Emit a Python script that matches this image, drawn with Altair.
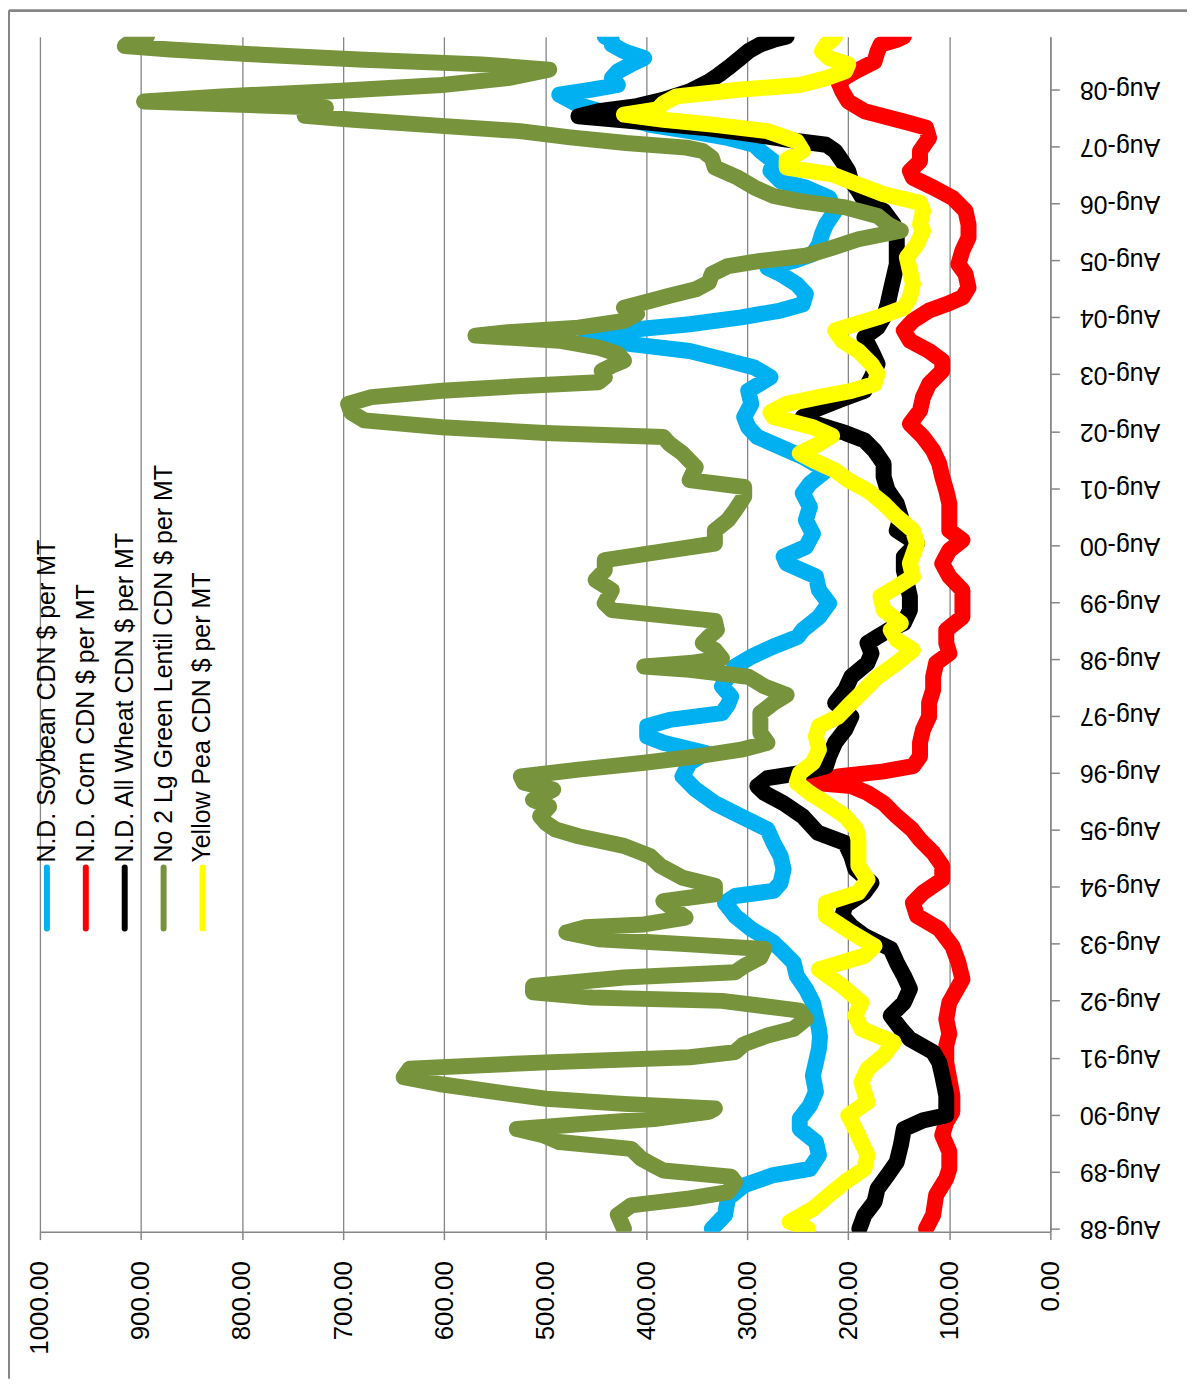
import altair as alt
import pandas as pd

series_names = [
    "N.D. Soybean CDN $ per MT",
    "N.D. Corn CDN $ per MT",
    "N.D. All Wheat CDN $ per MT",
    "No 2 Lg Green Lentil CDN $ per MT",
    "Yellow Pea CDN $ per MT",
]
series_colors = ["#00B0F0", "#FF0000", "#000000", "#77933C", "#FFFF00"]

value_ticks = [0, 100, 200, 300, 400, 500, 600, 700, 800, 900, 1000]
tick_years = list(range(1988, 2009))

soy_t = [
    1988.58, 1988.82, 1989.11, 1989.34, 1989.52, 1989.63, 1989.87, 1990.10, 1990.33, 1990.51,
    1990.74, 1990.98, 1991.27, 1991.50, 1991.74, 1991.95, 1992.09, 1992.32, 1992.55, 1992.79,
    1993.02, 1993.25, 1993.43, 1993.60, 1993.84, 1994.07, 1994.30, 1994.42, 1994.51, 1994.65,
    1994.89, 1995.12, 1995.35, 1995.59, 1995.82, 1996.05, 1996.29, 1996.52, 1996.76, 1996.93,
    1997.11, 1997.22, 1997.40, 1997.51, 1997.63, 1997.78, 1997.92, 1998.10, 1998.27, 1998.45,
    1998.62, 1998.80, 1998.97, 1999.09, 1999.32, 1999.56, 1999.79, 2000.03, 2000.26, 2000.38,
    2000.55, 2000.78, 2001.02, 2001.25, 2001.49, 2001.66, 2001.89, 2002.13, 2002.30, 2002.48,
    2002.65, 2002.83, 2003.06, 2003.29, 2003.53, 2003.70, 2003.82, 2003.99, 2004.11, 2004.23,
    2004.35, 2004.46, 2004.58, 2004.70, 2004.81, 2004.99, 2005.16, 2005.34, 2005.45, 2005.57,
    2005.69, 2005.86, 2006.04, 2006.21, 2006.45, 2006.68, 2006.86, 2006.97, 2007.15, 2007.32,
    2007.50, 2007.61, 2007.73, 2007.85, 2007.96, 2008.14, 2008.31, 2008.49, 2008.58, 2008.66,
    2008.78, 2008.90, 2009.02, 2009.13, 2009.25, 2009.37, 2009.45, 2009.51,
]
soy_v = [
    335, 322, 319, 303, 274, 238, 229, 232, 248, 248,
    238, 232, 235, 232, 229, 228, 229, 232, 235, 242,
    251, 254, 264, 274, 296, 312, 322, 312, 274, 267,
    264, 267, 274, 280, 306, 332, 351, 364, 357, 341,
    383, 399, 399, 377, 325, 319, 316, 325, 319, 312,
    296, 274, 250, 245, 229, 219, 229, 232, 261, 264,
    242, 235, 242, 238, 245, 238, 222, 245, 267, 290,
    299, 303, 296, 299, 277, 293, 319, 357, 415, 460,
    422, 357, 306, 267, 245, 242, 251, 267, 280, 254,
    235, 229, 226, 222, 213, 219, 242, 267, 277, 274,
    287, 293, 319, 357, 396, 434, 467, 486, 454, 428,
    434, 428, 415, 402, 422, 434, 434, 441,
]

corn_t = [
    1988.58, 1988.82, 1989.17, 1989.46, 1989.63, 1989.93, 1990.22, 1990.45, 1990.63, 1990.92,
    1991.21, 1991.50, 1991.79, 1992.00, 1992.26, 1992.55, 1992.96, 1993.25, 1993.54, 1993.84,
    1994.07, 1994.30, 1994.48, 1994.71, 1994.95, 1995.18, 1995.41, 1995.59, 1995.82, 1996.05,
    1996.23, 1996.35, 1996.41, 1996.52, 1996.61, 1996.70, 1996.87, 1997.11, 1997.34, 1997.57,
    1997.81, 1998.04, 1998.27, 1998.51, 1998.68, 1998.86, 1999.09, 1999.32, 1999.56, 1999.79,
    2000.03, 2000.26, 2000.49, 2000.67, 2000.84, 2001.08, 2001.31, 2001.54, 2001.78, 2002.01,
    2002.24, 2002.48, 2002.71, 2002.94, 2003.18, 2003.41, 2003.64, 2003.82, 2003.99, 2004.17,
    2004.35, 2004.52, 2004.70, 2004.81, 2004.93, 2005.10, 2005.34, 2005.51, 2005.75, 2005.98,
    2006.21, 2006.45, 2006.68, 2006.86, 2007.03, 2007.15, 2007.32, 2007.50, 2007.73, 2007.91,
    2008.02, 2008.20, 2008.37, 2008.55, 2008.72, 2008.90, 2009.07, 2009.25, 2009.37, 2009.45,
    2009.51,
]
corn_v = [
    123, 116, 113, 103, 100, 100, 107, 103, 97, 97,
    100, 103, 103, 100, 103, 100, 87, 91, 97, 110,
    132, 136, 126, 107, 107, 116, 129, 137, 152, 165,
    181, 197, 235, 210, 165, 136, 129, 129, 126, 120,
    120, 116, 116, 113, 100, 103, 103, 87, 87, 87,
    100, 107, 100, 87, 100, 100, 100, 103, 107, 110,
    116, 126, 139, 129, 126, 120, 107, 107, 120, 139,
    145, 136, 120, 103, 87, 81, 84, 91, 87, 81,
    81, 84, 97, 116, 136, 139, 129, 129, 120, 123,
    145, 184, 200, 206, 210, 193, 174, 171, 168, 152,
    145,
]

wheat_t = [
    1988.58, 1988.82, 1989.05, 1989.28, 1989.52, 1989.75, 1990.04, 1990.33, 1990.48, 1990.57,
    1990.92, 1991.27, 1991.50, 1991.68, 1991.91, 1992.09, 1992.32, 1992.55, 1992.79, 1993.02,
    1993.25, 1993.49, 1993.72, 1993.89, 1994.07, 1994.25, 1994.48, 1994.65, 1994.89, 1995.12,
    1995.35, 1995.53, 1995.82, 1996.05, 1996.23, 1996.35, 1996.49, 1996.58, 1996.70, 1996.87,
    1997.11, 1997.34, 1997.57, 1997.81, 1998.04, 1998.27, 1998.51, 1998.68, 1998.86, 1998.97,
    1999.09, 1999.21, 1999.44, 1999.68, 1999.91, 2000.14, 2000.38, 2000.61, 2000.84, 2001.08,
    2001.31, 2001.54, 2001.78, 2002.01, 2002.24, 2002.42, 2002.55, 2002.71, 2002.83, 2002.94,
    2003.12, 2003.29, 2003.53, 2003.76, 2003.99, 2004.23, 2004.40, 2004.58, 2004.81, 2005.05,
    2005.28, 2005.51, 2005.75, 2006.04, 2006.21, 2006.45, 2006.62, 2006.80, 2006.97, 2007.15,
    2007.32, 2007.50, 2007.61, 2007.70, 2007.79, 2007.91, 2008.02, 2008.11, 2008.20, 2008.29,
    2008.40, 2008.55, 2008.72, 2008.84, 2008.96, 2009.10, 2009.25, 2009.37, 2009.45, 2009.51,
]
wheat_v = [
    189, 184, 174, 171, 161, 152, 148, 145, 126, 103,
    103, 107, 110, 116, 139, 148, 158, 145, 139, 145,
    152, 158, 184, 197, 206, 203, 184, 177, 193, 197,
    203, 230, 245, 264, 283, 290, 280, 248, 222, 219,
    213, 203, 197, 213, 203, 197, 181, 177, 181, 171,
    160, 145, 139, 139, 142, 145, 145, 132, 152, 148,
    152, 161, 165, 165, 174, 184, 203, 232, 245, 235,
    210, 184, 177, 171, 177, 184, 171, 165, 161, 158,
    155, 152, 152, 152, 155, 165, 184, 190, 197, 200,
    206, 213, 222, 261, 293, 344, 409, 467, 447, 409,
    383, 357, 338, 328, 319, 309, 299, 287, 274, 261,
]

lentil_t = [
    1988.58, 1988.82, 1988.99, 1989.11, 1989.22, 1989.40, 1989.49, 1989.60, 1989.72, 1989.81,
    1989.98, 1990.10, 1990.22, 1990.33, 1990.42, 1990.51, 1990.63, 1990.69, 1990.77, 1990.86,
    1990.98, 1991.12, 1991.24, 1991.39, 1991.50, 1991.59, 1991.68, 1991.82, 1991.97, 1992.09,
    1992.26, 1992.41, 1992.58, 1992.64, 1992.73, 1992.84, 1992.99, 1993.08, 1993.19, 1993.34,
    1993.49, 1993.57, 1993.66, 1993.78, 1993.87, 1993.92, 1994.04, 1994.19, 1994.33, 1994.45,
    1994.60, 1994.74, 1994.95, 1995.12, 1995.30, 1995.47, 1995.59, 1995.70, 1995.82, 1995.99,
    1996.11, 1996.29, 1996.41, 1996.52, 1996.64, 1996.76, 1996.87, 1996.99, 1997.11, 1997.28,
    1997.46, 1997.63, 1997.81, 1997.95, 1998.10, 1998.27, 1998.39, 1998.45, 1998.51, 1998.59,
    1998.74, 1998.86, 1998.97, 1999.09, 1999.25, 1999.44, 1999.56, 1999.79, 1999.97, 2000.14,
    2000.32, 2000.49, 2000.61, 2000.84, 2001.02, 2001.19, 2001.43, 2001.60, 2001.72, 2001.95,
    2002.19, 2002.36, 2002.48, 2002.55, 2002.65, 2002.77, 2002.91, 2003.06, 2003.18, 2003.29,
    2003.38, 2003.44, 2003.53, 2003.64, 2003.73, 2003.82, 2003.94, 2004.05, 2004.17, 2004.26,
    2004.32, 2004.40, 2004.52, 2004.64, 2004.75, 2004.84, 2004.96, 2005.07, 2005.19, 2005.34,
    2005.48, 2005.57, 2005.66, 2005.80, 2005.95, 2006.10, 2006.20, 2006.36, 2006.51, 2006.62,
    2006.71, 2006.86, 2007.03, 2007.21, 2007.38, 2007.50, 2007.56, 2007.64, 2007.74, 2007.85,
    2007.95, 2008.05, 2008.12, 2008.19, 2008.26, 2008.37, 2008.46, 2008.55, 2008.66, 2008.78,
    2008.93, 2009.02, 2009.10, 2009.19, 2009.28, 2009.34, 2009.42, 2009.47, 2009.51,
]
lentil_v = [
    422, 428, 415, 357, 319, 312, 316, 383, 396, 405,
    415, 486, 502, 528, 460, 389, 338, 332, 422, 499,
    550, 605, 640, 634, 499, 357, 312, 303, 280, 254,
    242, 248, 325, 454, 512, 512, 422, 312, 303, 287,
    283, 357, 447, 479, 460, 402, 361, 373, 383, 332,
    332, 364, 386, 396, 422, 467, 490, 499, 505, 496,
    512, 492, 521, 524, 467, 402, 351, 306, 280, 287,
    287, 287, 274, 261, 283, 299, 357, 402, 357, 325,
    332, 344, 338, 330, 332, 434, 441, 434, 450, 441,
    441, 377, 332, 332, 319, 312, 303, 303, 357, 351,
    364, 377, 383, 500, 602, 679, 692, 695, 672, 602,
    518, 447, 441, 444, 434, 422, 428, 447, 486, 569,
    537, 467, 422, 409, 422, 402, 377, 351, 338, 335,
    319, 287, 242, 216, 190, 148, 160, 171, 203, 248,
    274, 293, 309, 332, 335, 344, 360, 420, 475, 525,
    610, 690, 738, 735, 717, 897, 820, 711, 602, 537,
    496, 563, 679, 781, 871, 916, 910, 897, 894,
]

pea_t = [
    1988.58, 1988.70, 1988.93, 1989.17, 1989.40, 1989.63, 1989.87, 1990.10, 1990.33, 1990.57,
    1990.80, 1991.15, 1991.38, 1991.62, 1991.85, 1991.97, 1992.09, 1992.32, 1992.55, 1992.84,
    1993.13, 1993.37, 1993.54, 1993.78, 1994.07, 1994.30, 1994.48, 1994.71, 1994.95, 1995.18,
    1995.41, 1995.59, 1995.82, 1996.05, 1996.23, 1996.41, 1996.58, 1996.76, 1996.99, 1997.22,
    1997.40, 1997.57, 1997.81, 1998.04, 1998.27, 1998.51, 1998.74, 1998.92, 1999.09, 1999.21,
    1999.44, 1999.68, 1999.85, 2000.03, 2000.26, 2000.61, 2000.84, 2001.08, 2001.31, 2001.54,
    2001.72, 2001.89, 2002.07, 2002.19, 2002.36, 2002.50, 2002.65, 2002.83, 2002.91, 2003.06,
    2003.18, 2003.29, 2003.41, 2003.59, 2003.76, 2003.99, 2004.17, 2004.35, 2004.46, 2004.58,
    2004.75, 2004.93, 2005.16, 2005.40, 2005.63, 2005.86, 2006.10, 2006.21, 2006.45, 2006.59,
    2006.74, 2006.91, 2007.09, 2007.21, 2007.35, 2007.50, 2007.67, 2007.85, 2007.96, 2008.05,
    2008.14, 2008.23, 2008.34, 2008.46, 2008.58, 2008.66, 2008.78, 2008.90, 2009.02, 2009.13,
    2009.25, 2009.37, 2009.45, 2009.51,
]
pea_v = [
    240, 258, 235, 219, 203, 184, 181, 187, 193, 200,
    181, 187, 181, 165, 155, 171, 187, 193, 187, 206,
    229, 184, 174, 197, 222, 222, 190, 181, 190, 190,
    190, 192, 203, 222, 238, 251, 248, 235, 229, 232,
    229, 210, 197, 184, 171, 152, 136, 152, 158, 148,
    165, 168, 152, 136, 139, 132, 136, 152, 165, 181,
    200, 213, 235, 248, 229, 216, 235, 274, 277, 261,
    229, 197, 174, 171, 177, 190, 206, 213, 193, 171,
    145, 139, 136, 139, 142, 132, 126, 129, 126, 129,
    165, 190, 216, 261, 261, 245, 251, 280, 332, 383,
    422, 389, 383, 370, 306, 248, 222, 203, 200, 219,
    226, 222, 216, 213,
]

GRAY = "#868686"
FONT = "Liberation Sans"


def to_iso(t):
    y = int(t)
    d = pd.Timestamp(year=y, month=1, day=1) + pd.Timedelta(days=(t - y) * 365.25)
    return d.strftime("%Y-%m-%dT%H:%M:%S")


all_t = [soy_t, corn_t, wheat_t, lentil_t, pea_t]
all_v = [soy_v, corn_v, wheat_v, lentil_v, pea_v]
rows = []
for name, ts, vs in zip(series_names, all_t, all_v):
    for i, (t, v) in enumerate(zip(ts, vs)):
        rows.append({"series": name, "date": to_iso(t), "value": v, "i": i})
df = pd.DataFrame(rows)

x_axis = alt.Axis(
    values=value_ticks, format=".2f", orient="bottom", title=None,
    labelAngle=270, labelAlign="right", labelBaseline="middle",
    labelPadding=21, labelFont=FONT, labelFontSize=26, labelColor="#000000",
    labelFlush=False, labelOverlap=False,
    tickSize=8, tickColor=GRAY, tickWidth=1.5,
    domainColor=GRAY, domainWidth=1.5,
    grid=True, gridColor=GRAY, gridWidth=1.3,
)
y_axis = alt.Axis(
    values=[alt.DateTime(year=y, month=8, date=1) for y in tick_years],
    format="%b-%y", orient="right", title=None,
    labelAngle=180, labelAlign="right", labelBaseline="middle",
    labelPadding=20, labelFont=FONT, labelFontSize=25, labelColor="#000000",
    labelFlush=False, labelOverlap=False,
    tickSize=9, tickColor=GRAY, tickWidth=1.5,
    domainColor=GRAY, domainWidth=1.5, grid=False,
)

base = alt.Chart(df).encode(
    x=alt.X("value:Q", scale=alt.Scale(domain=[0, 1000], reverse=True, nice=False, zero=False), axis=x_axis),
    y=alt.Y("date:T", scale=alt.Scale(domain=[alt.DateTime(year=1988, month=7, date=12),
                                             alt.DateTime(year=2009, month=7, date=5)], nice=False),
            axis=y_axis),
    order=alt.Order("i:Q"),
)

layers = []
for name, col in zip(series_names, series_colors):
    layers.append(
        base.transform_filter(alt.datum.series == name).mark_line(
            color=col, strokeWidth=16, strokeCap="round", strokeJoin="round", clip=True
        )
    )

legend_df = pd.DataFrame({
    "name": series_names,
    "lx": [7 + 39 * i for i in range(len(series_names))],
})
leg_color = alt.Color("name:N", scale=alt.Scale(domain=series_names, range=series_colors), legend=None)
legend_lines = alt.Chart(legend_df).mark_rule(strokeWidth=6, strokeCap="round").encode(
    x=alt.X("lx:Q", scale=None, axis=None),
    y=alt.value(833), y2=alt.value(894),
    color=leg_color,
)
legend_text = alt.Chart(legend_df).mark_text(
    angle=270, align="left", baseline="middle", font=FONT, fontSize=25, color="#000000"
).encode(
    x=alt.X("lx:Q", scale=None, axis=None),
    y=alt.value(828),
    text="name:N",
)

border_top = alt.Chart(legend_df).mark_rule(color=GRAY, strokeWidth=2).encode(
    x=alt.value(-31), x2=alt.value(1150), y=alt.value(-26)
)
border_left = alt.Chart(legend_df).mark_rule(color=GRAY, strokeWidth=2).encode(
    x=alt.value(-31), y=alt.value(-26), y2=alt.value(1345)
)

chart = alt.layer(*layers, legend_lines, legend_text, border_top, border_left).properties(
    width=1013, height=1198,
    autosize=alt.AutoSizeParams(type="none"),
    padding={"left": 32, "top": 27, "right": 140, "bottom": 150},
    background="#ffffff",
).configure_view(stroke=None)

chart.save("out.html", embed_options={"renderer": "svg", "actions": False})
